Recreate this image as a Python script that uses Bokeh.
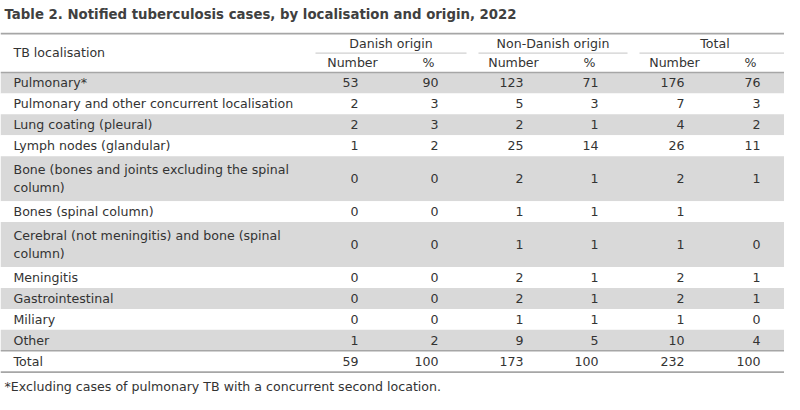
from bokeh.plotting import figure
from bokeh.models import Range1d, ColumnDataSource
from bokeh.core.properties import value
from bokeh.embed import file_html
from bokeh.resources import INLINE

title_text = "Table 2. Notified tuberculosis cases, by localisation and origin, 2022"
footnote = "*Excluding cases of pulmonary TB with a concurrent second location."
first_header = "TB localisation"
groups = ["Danish origin", "Non-Danish origin", "Total"]
subheaders = ["Number", "%", "Number", "%", "Number", "%"]

localisation = [
    "Pulmonary*",
    "Pulmonary and other concurrent localisation",
    "Lung coating (pleural)",
    "Lymph nodes (glandular)",
    "Bone (bones and joints excluding the spinal\ncolumn)",
    "Bones (spinal column)",
    "Cerebral (not meningitis) and bone (spinal\ncolumn)",
    "Meningitis",
    "Gastrointestinal",
    "Miliary",
    "Other",
]
danish_number = [53, 2, 2, 1, 0, 0, 0, 0, 0, 0, 1]
danish_pct = [90, 3, 3, 2, 0, 0, 0, 0, 0, 0, 2]
nondanish_number = [123, 5, 2, 25, 2, 1, 1, 2, 2, 1, 9]
nondanish_pct = [71, 3, 1, 14, 1, 1, 1, 1, 1, 1, 5]
total_number = [176, 7, 4, 26, 2, 1, 1, 2, 2, 1, 10]
total_pct = [76, 3, 2, 11, 1, None, 0, 1, 1, 0, 4]
total_row_label = "Total"
total_row = [59, 100, 173, 100, 232, 100]

# ---- layout (reference pixel coordinates) ----
FONT = "DejaVu Sans"
TXT = "#333333"
GREY = "#d9d9d9"
LINE = "#a6a6a6"
FS = "12.6px"
W, H = 784, 394
p = figure(width=W, height=H, output_backend="svg", toolbar_location=None,
           x_range=Range1d(0, W), y_range=Range1d(405, 0),
           min_border=0, outline_line_color=None, background_fill_color="white",
           border_fill_color="white")
p.axis.visible = False
p.xgrid.visible = False
p.ygrid.visible = False

label_x = 13
num_right = [358, 438, 523, 598, 684, 760]
sub_center = [352, 428, 513, 589, 674, 750]
group_span = [(315, 466), (478, 627), (639, 790)]

top_line_y = 34
header_bottom_y = 74
single_h = 21.5
double_h = 46.25
line_gap = 18.5

# row geometry
tops, bottoms = [], []
y = header_bottom_y
for lab in localisation:
    h = double_h if "\n" in lab else single_h
    tops.append(y)
    bottoms.append(y + h)
    y += h
body_end = y
total_top, total_bottom = body_end, body_end + 22

# zebra fills
fill_src = ColumnDataSource(dict(
    left=[0] * len(localisation), right=[800] * len(localisation),
    top=tops, bottom=bottoms,
    color=[GREY if i % 2 == 0 else "white" for i in range(len(localisation))]))
p.quad(left="left", right="right", top="top", bottom="bottom", color="color",
       line_color=None, source=fill_src)

# rules
p.segment(x0=[0, 0, 0, 0], x1=[800, 800, 800, 800],
          y0=[top_line_y, header_bottom_y, total_top, total_bottom],
          y1=[top_line_y, header_bottom_y, total_top, total_bottom],
          line_color=LINE, line_width=1.6)
p.segment(x0=[a for a, b in group_span], x1=[b for a, b in group_span],
          y0=[54] * 3, y1=[54] * 3, line_color="#d0d0d0", line_width=1.3)

tf = value(FONT)
# title
p.text(x=[4], y=[14], text=[title_text], text_font=tf, text_font_size="13.3px",
       text_font_style="bold", text_color="#404040", text_baseline="middle")
# header
p.text(x=[label_x], y=[53], text=[first_header], text_font=tf, text_font_size=FS,
       text_color=TXT, text_baseline="middle")
p.text(x=[(a + b) / 2 for a, b in group_span], y=[44] * 3, text=groups, text_font=tf,
       text_font_size=FS, text_color=TXT, text_baseline="middle", text_align="center")
p.text(x=sub_center, y=[64] * 6, text=subheaders, text_font=tf, text_font_size=FS,
       text_color=TXT, text_baseline="middle", text_align="center")

# row labels
lx, ly, lt = [], [], []
for lab, t, b in zip(localisation, tops, bottoms):
    parts = lab.split("\n")
    c = (t + b) / 2
    n = len(parts)
    for k, part in enumerate(parts):
        lx.append(label_x)
        ly.append(c + (k - (n - 1) / 2) * line_gap)
        lt.append(part)
lx.append(label_x)
ly.append((total_top + total_bottom) / 2)
lt.append(total_row_label)
p.text(x=lx, y=ly, text=lt, text_font=tf, text_font_size=FS, text_color=TXT,
       text_baseline="middle")

# numbers
cols = [danish_number, danish_pct, nondanish_number, nondanish_pct, total_number, total_pct]
nx, ny, nt = [], [], []
for ci, col in enumerate(cols):
    for v, t, b in zip(col, tops, bottoms):
        if v is None:
            continue
        nx.append(num_right[ci])
        ny.append((t + b) / 2)
        nt.append(str(v))
    nx.append(num_right[ci])
    ny.append((total_top + total_bottom) / 2)
    nt.append(str(total_row[ci]))
p.text(x=nx, y=ny, text=nt, text_font=tf, text_font_size=FS, text_color=TXT,
       text_baseline="middle", text_align="right")

# footnote
p.text(x=[4], y=[397], text=[footnote], text_font=tf, text_font_size=FS,
       text_color=TXT, text_baseline="middle")

open("out.html", "w").write(file_html(p, INLINE))
